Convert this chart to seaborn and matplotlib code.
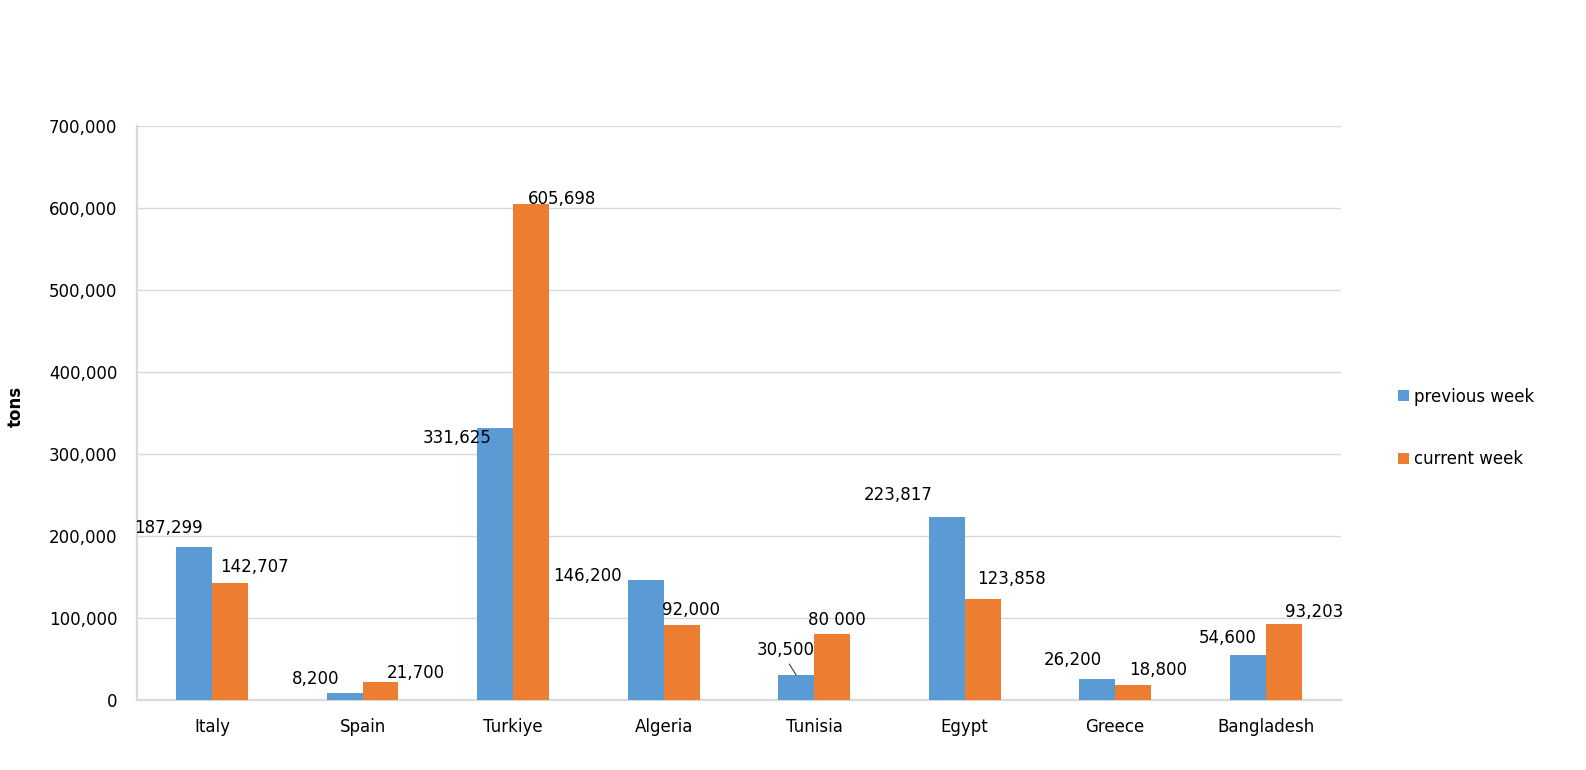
import matplotlib
matplotlib.use("Agg")
import matplotlib.pyplot as plt
import seaborn as sns
import pandas as pd
from matplotlib.ticker import FuncFormatter
from matplotlib.patches import Patch

# ---- data ----
countries = ["Italy", "Spain", "Turkiye", "Algeria", "Tunisia", "Egypt", "Greece", "Bangladesh"]
previous_week = [187299, 8200, 331625, 146200, 30500, 223817, 26200, 54600]
current_week = [142707, 21700, 605698, 92000, 80000, 123858, 18800, 93203]
previous_labels = ["187,299", "8,200", "331,625", "146,200", "30,500", "223,817", "26,200", "54,600"]
current_labels = ["142,707", "21,700", "605,698", "92,000", "80 000", "123,858", "18,800", "93,203"]
series_names = ["previous week", "current week"]
y_ticks = [0, 100000, 200000, 300000, 400000, 500000, 600000, 700000]

# ---- styling ----
colors = ["#5B9BD5", "#ED7D31"]
prev_offsets = [(-26, 18.5), (-29, 14), (-38, -10), (-58, 4), (-10, 25), (-48, 21.5), (-24.5, 18.5), (-20, 17)]
curr_offsets = [(24, 16), (35, 9.5), (31, 5), (9, 14.5), (4.5, 14), (29, 19.5), (25, 14.6), (30, 12)]
prev_leader = [False, False, False, False, True, False, False, False]

df = pd.DataFrame({
    "country": countries * 2,
    "series": [series_names[0]] * len(countries) + [series_names[1]] * len(countries),
    "value": previous_week + current_week,
})

sns.set_style("white")
plt.rcParams["font.family"] = ["DejaVu Sans"]
plt.rcParams["text.color"] = "black"
plt.rcParams["axes.labelcolor"] = "black"
plt.rcParams["xtick.color"] = "black"
plt.rcParams["ytick.color"] = "black"

fig = plt.figure(figsize=(15.86, 7.70), dpi=100)
ax = fig.add_axes([0.0862, 0.0909, 0.8455 - 0.0862, 0.8358 - 0.0909])

sns.barplot(data=df, x="country", y="value", hue="series", order=countries,
            hue_order=series_names, palette=colors, width=0.478, gap=0,
            saturation=1, errorbar=None, ax=ax, legend=False, zorder=3,
            linewidth=0, edgecolor="none")

ax.set_ylim(0, 700000)
ax.set_xlim(-0.5, len(countries) - 0.5)
ax.set_yticks(y_ticks)
ax.yaxis.set_major_formatter(FuncFormatter(lambda v, p: f"{v:,.0f}"))
ax.grid(axis="y", color="#d9d9d9", linewidth=1, zorder=0)
ax.set_axisbelow(True)
for s in ["top", "right"]:
    ax.spines[s].set_visible(False)
for s in ["left", "bottom"]:
    ax.spines[s].set_color("#d9d9d9")
    ax.spines[s].set_linewidth(1.6)
ax.tick_params(axis="both", length=0, labelsize=12, colors="black")
ax.tick_params(axis="x", pad=13)
ax.tick_params(axis="y", pad=14)
ax.set_xlabel("")
ax.set_ylabel("tons", fontsize=12, fontweight="bold", color="black")
ax.yaxis.set_label_coords(-0.093, 0.511)

label_sets = [(previous_labels, prev_offsets, prev_leader),
              (current_labels, curr_offsets, [False] * len(countries))]
for container, (labels, offsets, leaders) in zip(ax.containers, label_sets):
    for bar, lab, (dx, dy), lead in zip(container, labels, offsets, leaders):
        xc = bar.get_x() + bar.get_width() / 2
        yt = bar.get_height()
        if lead:
            ax.annotate(lab, xy=(xc, yt), xytext=(dx, dy), textcoords="offset pixels",
                        ha="center", va="center", fontsize=12, color="black", zorder=5,
                        arrowprops=dict(arrowstyle="-", color="#404040", lw=0.8,
                                        relpos=(0.5, 0), shrinkA=1.5, shrinkB=0))
        else:
            ax.annotate(lab, xy=(xc, yt), xytext=(dx, dy), textcoords="offset pixels",
                        ha="center", va="center", fontsize=12, color="black", zorder=5)

handles = [Patch(facecolor=c, edgecolor="none") for c in colors]
fig.legend(handles, series_names, loc="center left",
           bbox_to_anchor=(1398 / 1586, (770 - 428) / 770),
           frameon=False, fontsize=12, handlelength=0.66, handleheight=0.66,
           handletextpad=0.3, labelspacing=2.7, borderpad=0, borderaxespad=0,
           labelcolor="black")

fig.savefig("out.png", dpi=100, facecolor="white")
